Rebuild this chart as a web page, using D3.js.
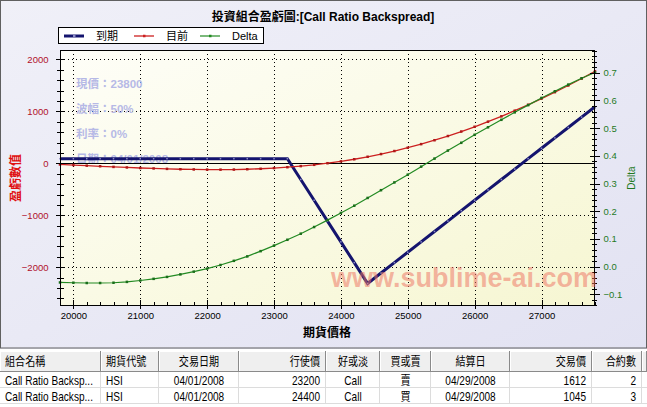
<!DOCTYPE html>
<html><head><meta charset="utf-8">
<script src="https://cdn.jsdelivr.net/npm/d3@7/dist/d3.min.js"></script>
<style>
html,body{margin:0;padding:0;background:#fff;overflow:hidden;}
svg{display:block;}
</style></head><body>
<svg id="c" width="647" height="407"></svg>
<script>
// ---------------- DATA ----------------
const chartTitle = "投資組合盈虧圖:[Call Ratio Backspread]";
const seriesNames = ["到期", "目前", "Delta"];
const prices = [19800,20000,20200,20400,20600,20800,21000,21200,21400,21600,21800,22000,22200,22400,22600,22800,23000,23200,23400,23600,23800,24000,24200,24400,24600,24800,25000,25200,25400,25600,25800,26000,26200,26400,26600,26800,27000,27200,27400,27600,27800];
const expiryPL = [89,89,89,89,89,89,89,89,89,89,89,89,89,89,89,89,89,89,-311,-711,-1111,-1511,-1911,-2311,-2111,-1911,-1711,-1511,-1311,-1111,-911,-711,-511,-311,-111,89,289,489,689,889,1089];
const currentPL = [-22,-33,-45,-57,-69,-80,-90,-99,-107,-114,-118,-121,-122,-120,-114,-105,-92,-75,-54,-29,2,37,78,126,178,236,300,369,444,525,611,703,801,904,1012,1126,1245,1369,1497,1631,1770];
const deltaVals = [-0.057,-0.058,-0.059,-0.059,-0.058,-0.055,-0.050,-0.044,-0.037,-0.028,-0.018,-0.007,0.006,0.021,0.037,0.056,0.076,0.097,0.119,0.143,0.168,0.194,0.220,0.248,0.276,0.304,0.332,0.361,0.390,0.419,0.447,0.476,0.503,0.530,0.557,0.583,0.609,0.633,0.657,0.680,0.701];
const xTicks = [20000,21000,22000,23000,24000,25000,26000,27000];
const leftTicks = [-2000,-1000,0,1000,2000];
const rightTicks = [-0.1,0.0,0.1,0.2,0.3,0.4,0.5,0.6,0.7];
const infoLines = ["現價：23800","波幅：50%","利率：0%","日期：04/01/2008"];
const xTitle = "期貨價格";
const leftTitle = "盈虧數值";
const rightTitle = "Delta";
const watermark = "www.sublime-ai.com";
const tableHeaders = ["組合名稱","期貨代號","交易日期","行使價","好或淡","買或賣","結算日","交易價","合約數"];
const tableRows = [
  ["Call Ratio Backsp...","HSI","04/01/2008","23200","Call","賣","04/29/2008","1612","2"],
  ["Call Ratio Backsp...","HSI","04/01/2008","24400","Call","買","04/29/2008","1045","3"]
];

// ---------------- LAYOUT / STYLE ----------------
const FONT = '"Liberation Sans",Arial,"Noto Sans CJK TC",sans-serif';
const cBlue = "#14146e", cRed = "#cc2020", cGreen = "#228a22";
const L = 60, R = 595, T = 50, B = 306;

const svg = d3.select("#c");
const defs = svg.append("defs");
const bg = defs.append("linearGradient").attr("id","bg").attr("x1","0").attr("y1","0").attr("x2","1").attr("y2","1");
bg.append("stop").attr("offset","0").attr("stop-color","#f0f0f8");
bg.append("stop").attr("offset","1").attr("stop-color","#e2e2f2");
const pg = defs.append("linearGradient").attr("id","pg").attr("x1","0").attr("y1","0").attr("x2","1").attr("y2","1");
pg.append("stop").attr("offset","0").attr("stop-color","#fefef8");
pg.append("stop").attr("offset","1").attr("stop-color","#f6f6d2");

svg.append("rect").attr("x",0).attr("y",0).attr("width",647).attr("height",349).attr("fill","url(#bg)");
svg.append("rect").attr("x",0).attr("y",349).attr("width",647).attr("height",58).attr("fill","#ffffff");
svg.append("rect").attr("x",0.5).attr("y",0.5).attr("width",646).attr("height",347.5)
  .attr("fill","none").attr("stroke","#606060");

// scales
const x = d3.scaleLinear().domain([19800,27800]).range([L,R]);
const yL = d3.scaleLinear().domain([-2745,2180]).range([B,T]);
const yR = d3.scaleLinear().domain([-0.142,0.782]).range([B,T]);

// plot background
svg.append("rect").attr("x",L).attr("y",T).attr("width",R-L).attr("height",B-T).attr("fill","url(#pg)");

// grid
const grid = svg.append("g").attr("stroke","#000").attr("stroke-dasharray","1,3").attr("shape-rendering","crispEdges");
grid.selectAll("line.v").data(xTicks).join("line")
  .attr("x1",d=>Math.round(x(d))+0.5).attr("x2",d=>Math.round(x(d))+0.5).attr("y1",T).attr("y2",B);
grid.selectAll("line.h").data(leftTicks.filter(d=>d!==0)).join("line")
  .attr("y1",d=>Math.round(yL(d))+0.5).attr("y2",d=>Math.round(yL(d))+0.5).attr("x1",L).attr("x2",R);

// info text
svg.append("g").selectAll("text").data(infoLines).join("text")
  .attr("x",76).attr("y",(d,i)=>88+i*25)
  .attr("font-family",FONT).attr("font-size",11.5).attr("font-weight","bold")
  .attr("fill","#b6b9e6").text(d=>d);

// zero line
svg.append("line").attr("x1",L).attr("x2",R).attr("y1",Math.round(yL(0))+0.5).attr("y2",Math.round(yL(0))+0.5)
  .attr("stroke","#000").attr("shape-rendering","crispEdges");

// lines
const pts = (vals, ys) => prices.map((p,i)=>[x(p), ys(vals[i])]);
const line = d3.line();
svg.append("path").attr("d",line(pts(expiryPL,yL))).attr("fill","none").attr("stroke",cBlue).attr("stroke-width",3);
svg.append("g").selectAll("rect").data(pts(expiryPL,yL)).join("rect")
  .attr("x",d=>d[0]-0.75).attr("y",d=>d[1]-0.75).attr("width",1.5).attr("height",1.5).attr("fill","#8a8ac4");

svg.append("path").attr("d",line(pts(currentPL,yL))).attr("fill","none").attr("stroke",cRed).attr("stroke-width",1.3);
svg.append("g").selectAll("rect").data(pts(currentPL,yL)).join("rect")
  .attr("x",d=>d[0]-1.25).attr("y",d=>d[1]-1.25).attr("width",2.5).attr("height",2.5).attr("fill","#b01818");

svg.append("path").attr("d",line(pts(deltaVals,yR))).attr("fill","none").attr("stroke",cGreen).attr("stroke-width",1.2);
svg.append("g").selectAll("rect").data(pts(deltaVals,yR)).join("rect")
  .attr("x",d=>d[0]-1.25).attr("y",d=>d[1]-1.25).attr("width",2.5).attr("height",2.5).attr("fill","#1a6e1a");

// plot border
svg.append("rect").attr("x",L+0.5).attr("y",T+0.5).attr("width",R-L-1).attr("height",B-T-1)
  .attr("fill","none").attr("stroke","#000").attr("shape-rendering","crispEdges");

// ----- axes -----
function styleAxis(g, color){
  g.select(".domain").remove();
  g.attr("font-family",FONT).attr("font-size",9.5);
  g.selectAll(".tick line").attr("stroke","#000").attr("shape-rendering","crispEdges");
  g.selectAll(".tick text").attr("fill",color);
}
// left
const gLm = svg.append("g").attr("transform",`translate(${L+0.5},0)`)
  .call(d3.axisLeft(yL).tickValues(d3.range(-2600,2001,200)).tickFormat("").tickSize(3.5).tickSizeOuter(0));
styleAxis(gLm,"#000"); gLm.selectAll(".tick line").attr("x1",3);
const gL = svg.append("g").attr("transform",`translate(${L+0.5},0)`)
  .call(d3.axisLeft(yL).tickValues(leftTicks).tickSize(5).tickPadding(7).tickFormat(d3.format("d")).tickSizeOuter(0));
styleAxis(gL,"#b0102a"); gL.selectAll(".tick line").attr("x1",3);
// right
const gRm = svg.append("g").attr("transform",`translate(${R-0.5},0)`)
  .call(d3.axisRight(yR).tickValues(d3.range(-14,79,2).map(v=>v/100)).tickFormat("").tickSize(2).tickSizeOuter(0));
styleAxis(gRm,"#000"); gRm.selectAll(".tick line").attr("x1",-3);
const gR = svg.append("g").attr("transform",`translate(${R-0.5},0)`)
  .call(d3.axisRight(yR).tickValues(rightTicks).tickSize(5).tickPadding(4).tickFormat(d3.format(".1f")).tickSizeOuter(0));
styleAxis(gR,"#1f7a1f"); gR.selectAll(".tick line").attr("x1",-5);
// bottom
const gBm = svg.append("g").attr("transform",`translate(0,${B-0.5})`)
  .call(d3.axisBottom(x).tickValues(d3.range(19800,27801,200)).tickFormat("").tickSize(0).tickSizeOuter(0));
styleAxis(gBm,"#000"); gBm.selectAll(".tick line").attr("y1",-4);
const gB = svg.append("g").attr("transform",`translate(0,${B-0.5})`)
  .call(d3.axisBottom(x).tickValues(xTicks).tickSize(3).tickPadding(4).tickFormat(d3.format("d")).tickSizeOuter(0));
styleAxis(gB,"#000"); gB.selectAll(".tick line").attr("y1",-6);

// axis titles
svg.append("text").attr("x",327).attr("y",337).attr("text-anchor","middle")
  .attr("font-family",FONT).attr("font-size",12).attr("font-weight","bold").attr("fill","#000").text(xTitle);
svg.append("text").attr("transform","translate(20,178) rotate(-90)").attr("text-anchor","middle")
  .attr("font-family",FONT).attr("font-size",12).attr("font-weight","bold").attr("fill","#e01010").text(leftTitle);
svg.append("text").attr("transform","translate(635,178) rotate(-90)").attr("text-anchor","middle")
  .attr("font-family",FONT).attr("font-size",10).attr("fill","#1f7a1f").text(rightTitle);

// title
svg.append("text").attr("x",323).attr("y",21).attr("text-anchor","middle")
  .attr("font-family",FONT).attr("font-size",12).attr("font-weight","bold").attr("fill","#000").text(chartTitle);

// legend
const lg = svg.append("g");
lg.append("rect").attr("x",58.5).attr("y",27.5).attr("width",205).attr("height",16)
  .attr("fill","#fff").attr("stroke","#000").attr("shape-rendering","crispEdges");
const legendX = [64, 134, 200];
const legendCols = [cBlue, cRed, cGreen];
const legendW = [3, 1.3, 1.2];
seriesNames.forEach((n,i)=>{
  const lx = legendX[i];
  lg.append("line").attr("x1",lx).attr("x2",lx+20).attr("y1",36).attr("y2",36)
    .attr("stroke",legendCols[i]).attr("stroke-width",legendW[i]);
  lg.append("rect").attr("x",lx+9).attr("y",34.75).attr("width",2.5).attr("height",2.5)
    .attr("fill", i===0 ? "#8a8ac4" : legendCols[i]);
  lg.append("text").attr("x",lx+32).attr("y",40).attr("font-family",FONT).attr("font-size",11)
    .attr("fill","#000").text(n);
});

// watermark
svg.append("text").attr("x",331).attr("y",287).attr("font-family",FONT).attr("font-size",27)
  .attr("font-weight","bold").attr("fill","#ee7766").attr("fill-opacity",0.55).text(watermark);

// ---------------- TABLE ----------------
const colEdges = [0,101,159,239,326,380,431,510,592,642,647];
const colAlign = ["start","start","middle","end","middle","middle","middle","end","end"];
const tg = svg.append("g").attr("font-family",FONT).attr("font-size",12).attr("shape-rendering","crispEdges");
const headTop = 351, headH = 21, rowH = 16;
const SX = 0.84; // narrow look of the original UI font
function textX(i){
  const a = colAlign[i];
  if (a==="start") return colEdges[i]+5;
  if (a==="end") return colEdges[i+1]-6;
  return (colEdges[i]+colEdges[i+1])/2;
}
// header cells
for (let i=0;i<colEdges.length-1;i++){
  const x0 = colEdges[i], x1 = colEdges[i+1];
  tg.append("rect").attr("x",x0).attr("y",headTop).attr("width",x1-x0).attr("height",headH).attr("fill","#efefef");
  tg.append("line").attr("x1",x0+0.5).attr("x2",x1-0.5).attr("y1",headTop+0.5).attr("y2",headTop+0.5).attr("stroke","#ffffff");
  tg.append("line").attr("x1",x0+0.5).attr("x2",x0+0.5).attr("y1",headTop).attr("y2",headTop+headH).attr("stroke","#ffffff");
  tg.append("line").attr("x1",x1-0.5).attr("x2",x1-0.5).attr("y1",headTop).attr("y2",headTop+headH).attr("stroke","#8a8a8a");
  tg.append("line").attr("x1",x0).attr("x2",x1).attr("y1",headTop+headH-0.5).attr("y2",headTop+headH-0.5).attr("stroke","#8a8a8a");
}
tg.selectAll("text.h").data(tableHeaders).join("text")
  .attr("transform",(d,i)=>`translate(${textX(i)},${headTop+15}) scale(${SX},1)`)
  .attr("text-anchor",(d,i)=>colAlign[i])
  .attr("fill","#000").text(d=>d);
// rows
tableRows.forEach((row,r)=>{
  const y0 = headTop+headH+r*rowH;
  tg.append("line").attr("x1",0).attr("x2",647).attr("y1",y0+rowH-0.5).attr("y2",y0+rowH-0.5).attr("stroke","#dcdcdc");
  for (let i=1;i<colEdges.length-1;i++){
    tg.append("line").attr("x1",colEdges[i]-0.5).attr("x2",colEdges[i]-0.5).attr("y1",y0).attr("y2",y0+rowH).attr("stroke","#dcdcdc");
  }
  tg.selectAll(null).data(row).join("text")
    .attr("transform",(d,i)=>`translate(${textX(i)},${y0+12.5}) scale(${SX},1)`)
    .attr("text-anchor",(d,i)=>colAlign[i])
    .attr("fill","#000").text(d=>d);
});
</script>
</body></html>
